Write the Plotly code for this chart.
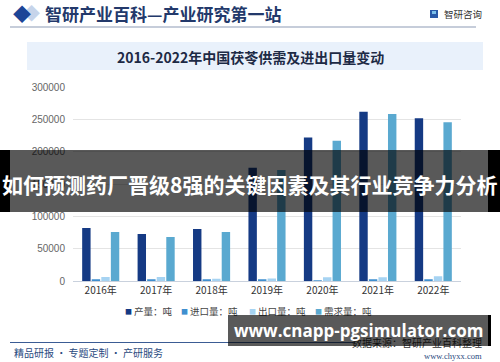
import plotly.graph_objects as go

# ---- data ----
years = ["2016年", "2017年", "2018年", "2019年", "2020年", "2021年", "2022年"]
series_names = ["产量：吨", "进口量：吨", "出口量：吨", "需求量：吨"]
production = [82000, 72800, 80500, 175400, 222400, 262100, 251900]
imports = [1800, 1500, 1500, 1500, 500, 1500, 1500]
exports = [6200, 6200, 3600, 4000, 5700, 5700, 7200]
demand = [75800, 68100, 75800, 171800, 217200, 258500, 245700]
y_ticks = [0, 50000, 100000, 150000, 200000, 250000, 300000]
colors = ["#153a84", "#3f8fcf", "#a6d3f2", "#5aa9d0"]

W, H = 500, 362
CJK = "Noto Sans CJK SC"


def px(x):
    return x / W


def py(y):
    return 1 - y / H


fig = go.Figure()
for name, vals, col in zip(series_names, [production, imports, exports, demand], colors):
    fig.add_trace(go.Bar(x=years, y=vals, name=name, marker=dict(color=col, line=dict(width=0)),
                         showlegend=False))

fig.update_layout(
    width=W, height=H,
    margin=dict(l=0, r=0, t=0, b=0),
    paper_bgcolor="white", plot_bgcolor="white",
    barmode="group", bargap=0.31, bargroupgap=0.12,
    font=dict(family=CJK, size=10, color="#444"),
    xaxis=dict(domain=[px(73), px(461)], type="category", showgrid=False,
               showline=True, linecolor="#c9d1dd", linewidth=1, ticks="",
               tickfont=dict(family=CJK, size=10, color="#333"), automargin=False),
    yaxis=dict(domain=[py(281), py(87.3)], range=[0, 300000], tickvals=y_ticks,
               ticktext=[str(v) for v in y_ticks], showgrid=True, gridcolor="#e4e4e4",
               gridwidth=1, zeroline=False, showline=False, ticks="outside", ticklen=5,
               tickcolor="rgba(0,0,0,0)", tickfont=dict(family="Liberation Sans", size=10, color="#666"),
               automargin=False),
)

shapes = []
ann = []

# header
ann.append(dict(text="◆", x=px(31), y=py(13), font=dict(size=17, color="#c6d4ea")))
ann.append(dict(text="◆", x=px(22), y=py(13), font=dict(size=18, color="#1d4597")))
ann.append(dict(text="<b>智研产业百科—产业研究第一站</b>", x=px(43), y=py(13.5), xanchor="left",
                font=dict(family=CJK, size=17, color="#23396b")))
shapes.append(dict(type="rect", xref="paper", yref="paper", x0=px(430), x1=px(438), y0=py(18), y1=py(10),
                   fillcolor="#2a5aa8", line=dict(width=0)))
shapes.append(dict(type="rect", xref="paper", yref="paper", x0=px(432), x1=px(436), y0=py(14), y1=py(11),
                   fillcolor="#7cc0ea", line=dict(width=0)))
ann.append(dict(text="智研咨询", x=px(442), y=py(14.5), xanchor="left",
                font=dict(family=CJK, size=9.5, color="#333")))
shapes.append(dict(type="line", xref="paper", yref="paper", x0=px(10), x1=px(476), y0=py(27), y1=py(27),
                   line=dict(color="#8d9bb5", width=1)))

# title box
shapes.append(dict(type="rect", xref="paper", yref="paper", x0=px(27), x1=px(483), y0=py(70), y1=py(42),
                   fillcolor="#e9f1fb", line=dict(width=0), layer="below"))
ann.append(dict(text="<b>2016-2022年中国茯苓供需及进出口量变动</b>", x=px(250), y=py(56.5),
                font=dict(family=CJK, size=14, color="#1d2a45")))

# legend (manual)
leg_x = [128, 184, 252, 318]
for name, col, lx in zip(series_names, colors, leg_x):
    ann.append(dict(text="■", x=px(lx), y=py(310.5), font=dict(size=7, color=col)))
    ann.append(dict(text=name, x=px(lx + 4), y=py(310.5), xanchor="left",
                    font=dict(family=CJK, size=9.5, color="#444")))

# footer
shapes.append(dict(type="line", xref="paper", yref="paper", x0=px(10), x1=px(355), y0=py(342.5), y1=py(342.5),
                   line=dict(color="#3b5c94", width=1)))
ann.append(dict(text="精品研报 · 专题定制 · 产研服务", x=px(12), y=py(352.5), xanchor="left",
                font=dict(family=CJK, size=10, color="#2a4a80")))
ann.append(dict(text="数据来源：智研产业百科整理", x=px(484), y=py(342), xanchor="right",
                font=dict(family=CJK, size=10, color="#333")))
ann.append(dict(text="www.chyxx.com", x=px(484), y=py(356), xanchor="right",
                font=dict(family="Liberation Serif", size=8.5, color="#2a4a80")))

# overlay band 1
ann.append(dict(text=" ", x=px(249), y=py(181), width=478, height=62, bgcolor="rgba(0,0,0,0.65)",
                borderpad=0, borderwidth=0))
shapes.append(dict(type="rect", xref="paper", yref="paper", x0=0, x1=px(10), y0=py(212), y1=py(150),
                   fillcolor="black", line=dict(width=0), layer="above"))
shapes.append(dict(type="rect", xref="paper", yref="paper", x0=px(488), x1=1, y0=py(212), y1=py(150),
                   fillcolor="black", line=dict(width=0), layer="above"))
ann.append(dict(text="<b>如何预测药厂晋级8强的关键因素及其行业竞争力分析</b>", x=px(249.5), y=py(184),
                font=dict(family=CJK, size=21, color="white")))

# overlay band 2
ann.append(dict(text=" ", x=px(358), y=py(330.5), width=260, height=31, bgcolor="rgba(0,0,0,0.65)",
                borderpad=0, borderwidth=0))
shapes.append(dict(type="rect", xref="paper", yref="paper", x0=px(488), x1=px(491), y0=py(346), y1=py(315),
                   fillcolor="black", line=dict(width=0), layer="above"))
ann.append(dict(text="<b>www.cnapp-pgsimulator.com</b>", x=px(358), y=py(330),
                font=dict(family="Open Sans", size=17, color="white")))

for a in ann:
    a.setdefault("xref", "paper")
    a.setdefault("yref", "paper")
    a.setdefault("showarrow", False)
    a.setdefault("xanchor", "center")
    a.setdefault("yanchor", "middle")

fig.update_layout(shapes=shapes, annotations=ann)
fig.write_html("out.html", config={"displayModeBar": False},
               post_script="document.body.style.margin='0';document.body.style.overflow='hidden';")
